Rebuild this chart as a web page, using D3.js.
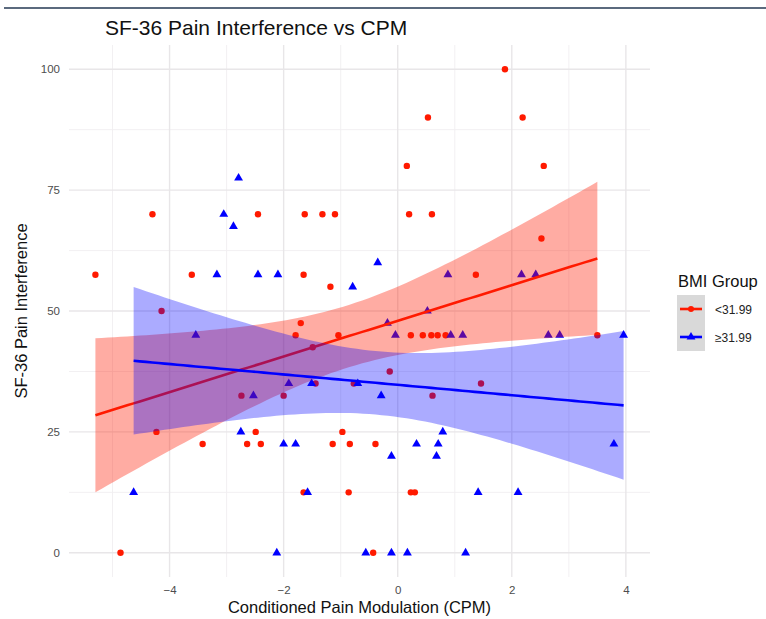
<!DOCTYPE html>
<html>
<head>
<meta charset="utf-8">
<script src="https://cdn.jsdelivr.net/npm/d3@7"></script>
<style>
  body { margin: 0; background: #fff; }
  svg { display: block; font-family: "Liberation Sans", Arial, sans-serif; }
</style>
</head>
<body>
<svg id="chart"></svg>
<script>
const width = 766;
const height = 619;

// CPM values and SF-36 scores, BMI < 31.99
const lowX = [-5.30, -4.86, -4.30, -4.23, -4.14, -3.61, -3.42, -2.74, -2.64, -2.49,
    -2.45, -2.40, -2.00, -1.79, -1.70, -1.65, -1.63, -1.65, -1.49, -1.44,
    -1.32, -1.18, -1.14, -1.10, -1.04, -0.97, -0.86, -0.84, -0.77, -0.43,
    -0.39, -0.14, 0.16, 0.20, 0.23, 0.23, 0.30, 0.44, 0.53, 0.59,
    0.60, 0.61, 0.70, 0.84, 1.37, 1.46, 1.88, 2.19, 2.52, 2.56, 3.50];
const lowY = [57.5, 0, 70, 25, 50, 57.5, 22.5, 32.5, 22.5, 25,
    70, 22.5, 32.5, 45, 47.5, 57.5, 70, 12.5, 42.5, 35,
    70, 55, 22.5, 70, 45, 25, 12.5, 22.5, 35, 0,
    22.5, 37.5, 80, 70, 45, 12.5, 12.5, 45, 90, 45,
    70, 32.5, 45, 45, 57.5, 35, 100, 90, 65, 80, 45];

// BMI >= 31.99
const highX = [-4.63, -3.54, -3.17, -3.05, -2.88, -2.79, -2.75, -2.53, -2.45, -2.12,
    -2.10, -2.00, -1.91, -1.79, -1.58, -1.51, -0.79, -0.70, -0.56, -0.35,
    -0.29, -0.18, -0.11, -0.11, -0.04, 0.17, 0.33, 0.52, 0.68, 0.71,
    0.79, 0.88, 0.93, 1.14, 1.19, 1.41, 2.11, 2.17, 2.42, 2.64,
    2.84, 3.79, 3.96];
const highY = [12.5, 45, 57.5, 70, 67.5, 77.5, 25, 32.5, 57.5, 0,
    57.5, 22.5, 35, 22.5, 12.5, 35, 55, 35, 0, 60,
    32.5, 47.5, 20, 0, 45, 0, 22.5, 50, 20, 22.5,
    25, 57.5, 45, 45, 0, 12.5, 12.5, 57.5, 57.5, 45,
    45, 22.5, 45];

const groupNames = ["<31.99", "≥31.99"];
const groupColors = ["#ff1a00", "#0000ff"];
const xTicks = [-4, -2, 0, 2, 4];
const yTicks = [0, 25, 50, 75, 100];

const groups = [
    { name: groupNames[0], color: groupColors[0], shape: "circle",
      pts: lowX.map((x, i) => ({ x: x, y: lowY[i] })) },
    { name: groupNames[1], color: groupColors[1], shape: "triangle",
      pts: highX.map((x, i) => ({ x: x, y: highY[i] })) }
];

const panel = { left: 69, right: 650, top: 45, bottom: 577 };

const allX = lowX.concat(highX);
const xExt = d3.extent(allX);
const xPad = (xExt[1] - xExt[0]) * 0.05;
const x = d3.scaleLinear()
    .domain([xExt[0] - xPad, xExt[1] + xPad])
    .range([panel.left, panel.right]);
const y = d3.scaleLinear()
    .domain([-5, 105])
    .range([panel.bottom, panel.top]);

// t quantile (0.975) via expansion around the normal value
function tQuant(df) {
    const z = 1.959964;
    return z + (z ** 3 + z) / (4 * df)
        + (5 * z ** 5 + 16 * z ** 3 + 3 * z) / (96 * df * df)
        + (3 * z ** 7 + 19 * z ** 5 + 17 * z ** 3 - 15 * z) / (384 * df ** 3);
}

// linear fit with 95% confidence band, like geom_smooth(method = "lm")
function lmFit(pts) {
    const n = pts.length;
    const mx = d3.mean(pts, d => d.x);
    const my = d3.mean(pts, d => d.y);
    const sxx = d3.sum(pts, d => (d.x - mx) ** 2);
    const sxy = d3.sum(pts, d => (d.x - mx) * (d.y - my));
    const b = sxy / sxx;
    const a = my - b * mx;
    const sse = d3.sum(pts, d => (d.y - a - b * d.x) ** 2);
    const s = Math.sqrt(sse / (n - 2));
    const t = tQuant(n - 2);
    const [lo, hi] = d3.extent(pts, d => d.x);
    return d3.range(80).map(i => {
        const xv = lo + (hi - lo) * i / 79;
        const fit = a + b * xv;
        const se = s * Math.sqrt(1 / n + (xv - mx) ** 2 / sxx);
        return { x: xv, fit: fit, lo: fit - t * se, hi: fit + t * se };
    });
}

const svg = d3.select("#chart")
    .attr("width", width)
    .attr("height", height);

// page rule at top
svg.append("line")
    .attr("x1", 4).attr("x2", width)
    .attr("y1", 8).attr("y2", 8)
    .attr("stroke", "#5b6a7e")
    .attr("stroke-width", 2);

// grid
const grid = svg.append("g");
const xMinor = d3.range(-5, 5, 2).filter(v => x(v) > panel.left && x(v) < panel.right);
const yMinor = [12.5, 37.5, 62.5, 87.5];
grid.selectAll(".vminor").data(xMinor).enter().append("line")
    .attr("x1", d => x(d)).attr("x2", d => x(d))
    .attr("y1", panel.top).attr("y2", panel.bottom)
    .attr("stroke", "#f0eef0").attr("stroke-width", 0.9);
grid.selectAll(".hminor").data(yMinor).enter().append("line")
    .attr("x1", panel.left).attr("x2", panel.right)
    .attr("y1", d => y(d)).attr("y2", d => y(d))
    .attr("stroke", "#f0eef0").attr("stroke-width", 0.9);
grid.selectAll(".vmajor").data(xTicks).enter().append("line")
    .attr("x1", d => x(d)).attr("x2", d => x(d))
    .attr("y1", panel.top).attr("y2", panel.bottom)
    .attr("stroke", "#e8e6e8").attr("stroke-width", 1.4);
grid.selectAll(".hmajor").data(yTicks).enter().append("line")
    .attr("x1", panel.left).attr("x2", panel.right)
    .attr("y1", d => y(d)).attr("y2", d => y(d))
    .attr("stroke", "#e8e6e8").attr("stroke-width", 1.4);

// axes (labels only, no domain lines)
const xAxis = svg.append("g")
    .attr("transform", `translate(0,${panel.bottom})`)
    .call(d3.axisBottom(x).tickValues(xTicks).tickSize(0).tickPadding(9));
const yAxis = svg.append("g")
    .attr("transform", `translate(${panel.left},0)`)
    .call(d3.axisLeft(y).tickValues(yTicks).tickSize(0).tickPadding(9));
[xAxis, yAxis].forEach(ax => {
    ax.select(".domain").remove();
    ax.selectAll("text")
        .attr("fill", "#4d4d4d")
        .style("font-size", "11.5px")
        .style("font-family", "Liberation Sans, Arial, sans-serif");
});

// points
const symTri = d3.symbol().type(d3.symbolTriangle).size(34);
groups.forEach(g => {
    const layer = svg.append("g");
    if (g.shape === "circle") {
        layer.selectAll("circle").data(g.pts).enter().append("circle")
            .attr("cx", d => x(d.x)).attr("cy", d => y(d.y))
            .attr("r", 3.2)
            .attr("fill", g.color);
    } else {
        layer.selectAll("path").data(g.pts).enter().append("path")
            .attr("d", symTri)
            .attr("transform", d => `translate(${x(d.x)},${y(d.y)})`)
            .attr("fill", g.color);
    }
});

// smooths: ribbon then line, per group
const bandAlpha = [0.36, 0.33];
groups.forEach((g, i) => {
    const fit = lmFit(g.pts);
    svg.append("path")
        .datum(fit)
        .attr("d", d3.area().x(d => x(d.x)).y0(d => y(d.lo)).y1(d => y(d.hi)))
        .attr("fill", g.color)
        .attr("fill-opacity", bandAlpha[i]);
    svg.append("path")
        .datum(fit)
        .attr("d", d3.line().x(d => x(d.x)).y(d => y(d.fit)))
        .attr("fill", "none")
        .attr("stroke", g.color)
        .attr("stroke-width", 2.6);
});

// titles
svg.append("text")
    .attr("x", 105).attr("y", 35)
    .style("font-size", "21px")
    .attr("fill", "#111")
    .text("SF-36 Pain Interference vs CPM");

svg.append("text")
    .attr("x", (panel.left + panel.right) / 2).attr("y", 613)
    .attr("text-anchor", "middle")
    .style("font-size", "16.5px")
    .attr("fill", "#111")
    .text("Conditioned Pain Modulation (CPM)");

svg.append("text")
    .attr("transform", `translate(27,${(panel.top + panel.bottom) / 2}) rotate(-90)`)
    .attr("text-anchor", "middle")
    .style("font-size", "16.5px")
    .attr("fill", "#111")
    .text("SF-36 Pain Interference");

// legend
const legend = svg.append("g").attr("transform", "translate(677,0)");
legend.append("text")
    .attr("x", 1).attr("y", 287)
    .style("font-size", "16.5px")
    .attr("fill", "#111")
    .text("BMI Group");
groups.forEach((g, i) => {
    const cy = 309 + i * 28;
    legend.append("rect")
        .attr("x", 0).attr("y", cy - 14)
        .attr("width", 28).attr("height", 28)
        .attr("fill", "#d9d9d9");
    legend.append("line")
        .attr("x1", 3).attr("x2", 25)
        .attr("y1", cy).attr("y2", cy)
        .attr("stroke", g.color).attr("stroke-width", 2.6);
    if (g.shape === "circle") {
        legend.append("circle").attr("cx", 14).attr("cy", cy).attr("r", 3).attr("fill", g.color);
    } else {
        legend.append("path").attr("d", symTri)
            .attr("transform", `translate(14,${cy})`).attr("fill", g.color);
    }
    legend.append("text")
        .attr("x", 38).attr("y", cy + 4.5)
        .style("font-size", "12px")
        .attr("fill", "#222")
        .text(g.name);
});
</script>
</body>
</html>
